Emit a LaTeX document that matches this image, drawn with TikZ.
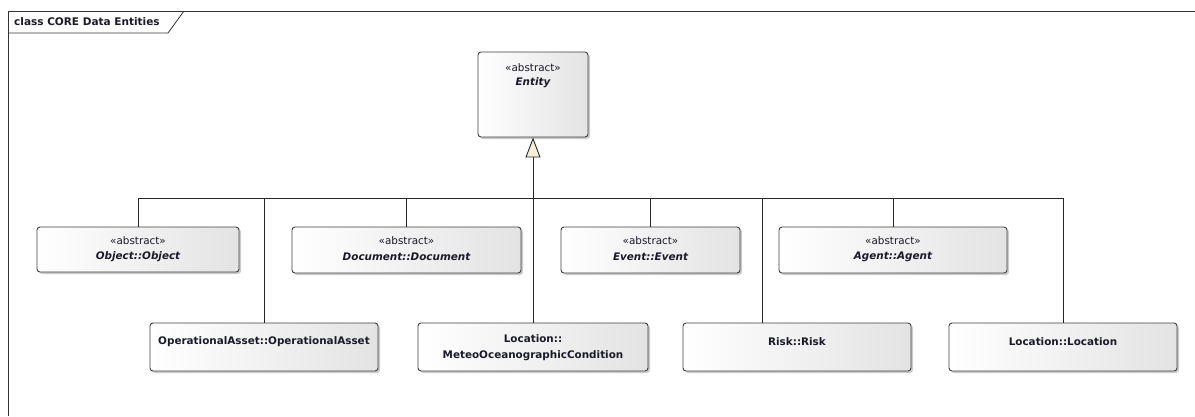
\documentclass[tikz,border=0pt]{standalone}
\usepackage{fontspec}
\setmainfont{DejaVu Sans}
\usetikzlibrary{arrows.meta,shadows}
\definecolor{tipfill}{HTML}{F8EEDC}
\definecolor{ink}{HTML}{1A1A2A}
\begin{document}
\begin{tikzpicture}[x=1pt,y=-1pt,
  classbox/.style={draw=black!75,line width=0.9pt,rounded corners=3pt,
    left color=white,right color=black!11,inner sep=0pt,
    drop shadow={shadow xshift=2pt,shadow yshift=-2pt,fill=black!40,opacity=0.5}},
  stereo/.style={font=\fontsize{10.4}{12}\selectfont,text=ink,inner sep=0pt},
  aname/.style={font=\fontsize{10.4}{12}\selectfont\bfseries\itshape,text=ink,inner sep=0pt},
  cname/.style={font=\fontsize{10.4}{16}\selectfont\bfseries,text=ink,inner sep=0pt,align=center},
  conn/.style={draw=black!85,line width=0.9pt},
  gen/.style={conn,-{Triangle[length=20pt,width=15pt,fill=tipfill]}}
]
\useasboundingbox (0,0) rectangle (1195,416);
\fill[white] (0,0) rectangle (1195,416);

% diagram frame with its name tab
\draw[black!80,line width=0.8pt] (8,416) -- (8,11) -- (1195,11);
\draw[black!80,line width=0.8pt] (8,33) -- (168,33) -- (184,11);
\node[anchor=west,inner sep=0pt,font=\fontsize{10.5}{12}\selectfont\bfseries,text=ink]
  (frametitle) at (14,22) {class CORE Data Entities};

% superclass
\node[classbox,minimum width=110pt,minimum height=85pt] (ent) at (533,94.5) {};
\node[stereo] (ent-st) at ([yshift=-16pt]ent.north) {«abstract»};
\node[aname] (ent-n) at ([yshift=-31pt]ent.north) {Entity};

% abstract subclasses (upper row)
\node[classbox,minimum width=202pt,minimum height=45pt] (obj) at (138,249.5) {};
\node[stereo] (obj-st) at ([yshift=-14pt]obj.north) {«abstract»};
\node[aname] (obj-n) at ([yshift=-30pt]obj.north) {Object::Object};

\node[classbox,minimum width=229pt,minimum height=46pt] (doc) at (406.5,250) {};
\node[stereo] (doc-st) at ([yshift=-14pt]doc.north) {«abstract»};
\node[aname] (doc-n) at ([yshift=-30pt]doc.north) {Document::Document};

\node[classbox,minimum width=179pt,minimum height=46pt] (evt) at (650.5,250) {};
\node[stereo] (evt-st) at ([yshift=-14pt]evt.north) {«abstract»};
\node[aname] (evt-n) at ([yshift=-30pt]evt.north) {Event::Event};

\node[classbox,minimum width=228pt,minimum height=46pt] (agt) at (893,250) {};
\node[stereo] (agt-st) at ([yshift=-14pt]agt.north) {«abstract»};
\node[aname] (agt-n) at ([yshift=-30pt]agt.north) {Agent::Agent};

% concrete subclasses (lower row)
\node[classbox,minimum width=228pt,minimum height=48pt] (opa) at (264,347) {};
\node[cname] (opa-n) at ([yshift=-19pt]opa.north) {OperationalAsset::OperationalAsset};

\node[classbox,minimum width=230pt,minimum height=48pt] (met) at (533,347) {};
\node[cname,anchor=north] (met-n) at ([yshift=-12pt]met.north) {Location::\\MeteoOceanographicCondition};

\node[classbox,minimum width=228pt,minimum height=48pt] (rsk) at (797,347) {};
\node[cname] (rsk-n) at ([yshift=-19pt]rsk.north) {Risk::Risk};

\node[classbox,minimum width=228pt,minimum height=48pt] (loc) at (1063,347) {};
\node[cname] (loc-n) at ([yshift=-19pt]loc.north) {Location::Location};

% generalization tree
\coordinate (bus) at (533,198);
\coordinate (rsk-top) at ([xshift=80pt]rsk.north west);
\draw[gen] (bus) -- (ent.south);
\draw[conn] (obj.north) |- (bus);
\draw[conn] (opa.north) |- (bus);
\draw[conn] (doc.north) |- (bus);
\draw[conn] (met.north) -- (bus);
\draw[conn] (evt.north) |- (bus);
\draw[conn] (rsk-top) |- (bus);
\draw[conn] (agt.north) |- (bus);
\draw[conn] (loc.north) |- (bus);
\end{tikzpicture}
\end{document}
